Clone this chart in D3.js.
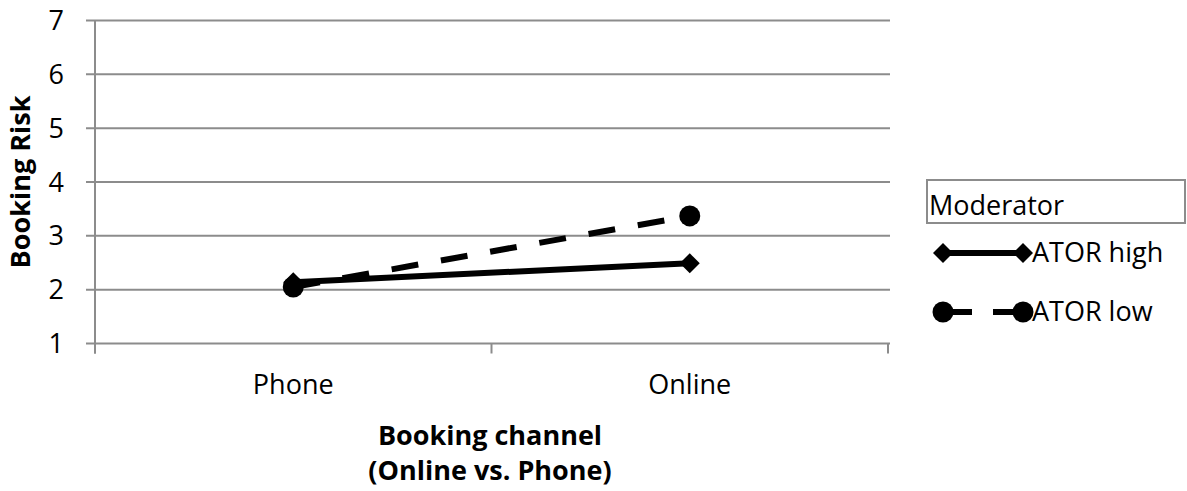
<!DOCTYPE html>
<html>
<head>
<meta charset="utf-8">
<script src="https://cdn.jsdelivr.net/npm/d3@7"></script>
<style>
  html, body { margin: 0; padding: 0; background: #fff; }
  svg { display: block; }
  text { font-family: "Open Sans", "Liberation Sans", sans-serif; fill: #000; }
</style>
</head>
<body>
<svg id="chart" width="1187" height="491"></svg>
<script>
// Interaction plot: booking risk by booking channel, split by ATOR moderator
const categories = ["Phone", "Online"];
const yTicks = [1, 2, 3, 4, 5, 6, 7];
const seriesNames = ["ATOR high", "ATOR low"];
const atorHigh = [2.14, 2.49];
const atorLow = [2.05, 3.37];

const series = [
  { name: seriesNames[0], values: atorHigh, dash: null, legendDash: null, marker: "diamond" },
  { name: seriesNames[1], values: atorLow, dash: "27,23", legendDash: "29,21,100", marker: "circle" }
];

const svg = d3.select("#chart");
const plot = { left: 95, right: 888, top: 20.5, bottom: 343.5 };

const x = d3.scaleBand().domain(categories).range([plot.left, plot.right]);
const y = d3.scaleLinear().domain([1, 7]).range([plot.bottom, plot.top]);
const gridColor = "#8c8c8c";
const fs = 27;

// horizontal gridlines
svg.append("g").selectAll("line").data(yTicks).join("line")
  .attr("x1", plot.left - 9).attr("x2", plot.right + 2)
  .attr("y1", d => y(d)).attr("y2", d => y(d))
  .attr("stroke", gridColor).attr("stroke-width", 2);

// y axis line
svg.append("line")
  .attr("x1", plot.left).attr("x2", plot.left)
  .attr("y1", plot.top).attr("y2", plot.bottom + 10)
  .attr("stroke", gridColor).attr("stroke-width", 2);

// x axis ticks at band boundaries
const bounds = [plot.left, ...categories.slice(1).map(c => x(c)), plot.right];
svg.append("g").selectAll("line").data(bounds).join("line")
  .attr("x1", d => d).attr("x2", d => d)
  .attr("y1", plot.bottom).attr("y2", plot.bottom + 10)
  .attr("stroke", gridColor).attr("stroke-width", 2);

// y tick labels
svg.append("g").selectAll("text").data(yTicks).join("text")
  .attr("x", 64).attr("y", d => y(d) + 9.5)
  .attr("text-anchor", "end").attr("font-size", fs)
  .text(d => d);

// category labels
svg.append("g").selectAll("text").data(categories).join("text")
  .attr("x", d => x(d) + x.bandwidth() / 2).attr("y", 394)
  .attr("text-anchor", "middle").attr("font-size", fs)
  .text(d => d);

// axis titles
svg.append("text").attr("x", 490).attr("y", 445)
  .attr("text-anchor", "middle").attr("font-size", fs).attr("font-weight", "bold")
  .text("Booking channel");
svg.append("text").attr("x", 490).attr("y", 480)
  .attr("text-anchor", "middle").attr("font-size", fs).attr("font-weight", "bold")
  .text("(Online vs. Phone)");
svg.append("text")
  .attr("transform", "translate(30,182) rotate(-90)")
  .attr("text-anchor", "middle").attr("font-size", fs).attr("font-weight", "bold")
  .text("Booking Risk");

const cx = c => x(c) + x.bandwidth() / 2;

function drawMarker(g, type, px, py) {
  if (type === "diamond") {
    const s = 10;
    g.append("path")
      .attr("d", `M${px},${py - s}L${px + s},${py}L${px},${py + s}L${px - s},${py}Z`)
      .attr("fill", "#000");
  } else {
    g.append("circle").attr("cx", px).attr("cy", py).attr("r", 10.5).attr("fill", "#000");
  }
}

const line = d3.line().x((d, i) => cx(categories[i])).y(d => y(d));

// series lines (low first so the solid line sits on top)
const lines = svg.append("g");
[series[1], series[0]].forEach(s => {
  lines.append("path").datum(s.values)
    .attr("d", line)
    .attr("fill", "none").attr("stroke", "#000").attr("stroke-width", 6)
    .attr("stroke-dasharray", s.dash);
});
[series[1], series[0]].forEach(s => {
  s.values.forEach((v, i) => drawMarker(lines, s.marker, cx(categories[i]), y(v)));
});

// legend
const legend = svg.append("g");
legend.append("rect").attr("x", 927).attr("y", 180).attr("width", 258).attr("height", 43)
  .attr("fill", "#fff").attr("stroke", gridColor).attr("stroke-width", 2);
legend.append("text").attr("x", 929).attr("y", 215).attr("font-size", fs).text("Moderator");

const legendY = [253, 312];
series.forEach((s, i) => {
  const ly = legendY[i];
  legend.append("line")
    .attr("x1", 943).attr("x2", 1023).attr("y1", ly).attr("y2", ly)
    .attr("stroke", "#000").attr("stroke-width", 6)
    .attr("stroke-dasharray", s.legendDash);
  drawMarker(legend, s.marker, 943, ly);
  drawMarker(legend, s.marker, 1023, ly);
  legend.append("text").attr("x", 1032).attr("y", ly + 9).attr("font-size", fs).text(s.name);
});
</script>
</body>
</html>
